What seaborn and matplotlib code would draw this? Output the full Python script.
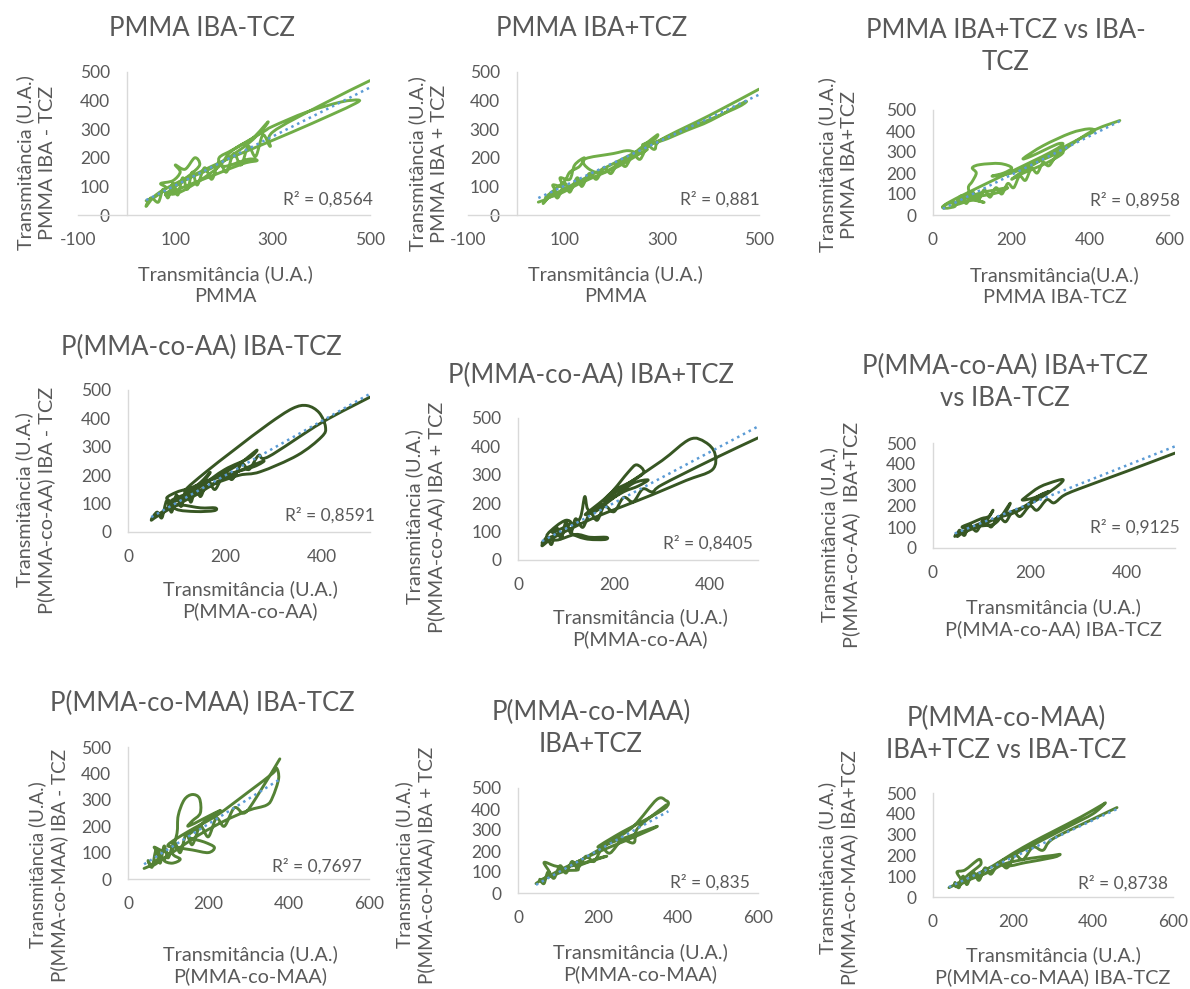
import numpy as np
import pandas as pd
import matplotlib
matplotlib.use("Agg")
import matplotlib.pyplot as plt
from matplotlib.path import Path
from matplotlib.patches import PathPatch
import seaborn as sns

sns.set_theme(style="white")
plt.rcParams["font.family"] = ["Lato", "DejaVu Sans"]
plt.rcParams["axes.unicode_minus"] = False

W, H = 1190, 989
TEXT = "#595959"
AXIS = "#D9D9D9"
TREND = "#5B9BD5"
LIGHT = "#70AD47"
DARK = "#375623"
MID = "#548235"

# ---- transmittance traces (x: reference film, y: compared film) ----
pmma_iba_x = [40, 60, 80, 70, 95, 110, 100, 120, 140, 150, 130, 105, 90, 110, 150, 190, 210, 230, 260, 290,
              280, 250, 200, 170, 130, 100, 80, 120, 180, 240, 268, 250, 200, 190, 220, 280, 300, 370, 440, 476,
              470, 420, 340, 270, 200, 150, 100, 60, 40, 50, 65, 75, 85, 95, 105, 115, 125, 135, 145,
              160, 175, 190, 205, 220, 235, 250, 265, 280, 295, 300, 400, 500]
pmma_iba_y = [50, 65, 95, 110, 120, 150, 175, 160, 200, 175, 140, 110, 75, 80, 120, 170, 215, 240, 270, 325,
              300, 250, 190, 160, 130, 100, 70, 100, 140, 180, 190, 195, 170, 200, 230, 290, 310, 360, 395, 402,
              390, 350, 290, 240, 190, 150, 110, 70, 30, 60, 45, 90, 60, 110, 70, 130, 90, 150, 105,
              165, 125, 185, 150, 215, 175, 240, 205, 280, 240, 290, 385, 470]

pmma_ibap_x = [45, 60, 80, 75, 95, 90, 110, 120, 140, 130, 110, 100, 80, 60, 90, 130, 170, 210, 250, 270,
               255, 230, 200, 140, 150, 180, 230, 260, 290, 285, 260, 300, 350, 400, 470, 460, 400, 300, 200, 120,
               70, 55, 60, 75, 85, 100, 110, 125, 135, 150, 165, 180, 195, 210, 225, 240, 255, 270, 285,
               300, 400, 500]
pmma_ibap_y = [45, 55, 80, 105, 100, 130, 125, 175, 200, 170, 150, 120, 90, 60, 75, 110, 140, 170, 210, 230,
               215, 225, 215, 195, 160, 150, 200, 240, 280, 265, 245, 260, 295, 330, 395, 380, 335, 265, 180, 110,
               65, 40, 50, 80, 60, 110, 80, 130, 100, 145, 125, 165, 145, 185, 170, 210, 195, 240, 230,
               265, 350, 440]

pmma_vs_x = [25, 40, 60, 50, 80, 100, 90, 120, 150, 170, 190, 160, 120, 80, 60, 100, 130, 100, 90, 100,
             110, 100, 120, 170, 200, 180, 150, 200, 250, 300, 330, 320, 280, 230, 200, 230, 300, 380, 410, 395,
             350, 280, 230, 250, 320, 300, 40, 55, 70, 85, 100, 115, 130, 145, 160, 175, 190, 205, 220,
             235, 250, 265, 280, 295, 320, 400, 475]
pmma_vs_y = [40, 55, 60, 45, 90, 110, 80, 90, 100, 110, 130, 120, 105, 75, 50, 70, 60, 80, 130, 160,
             200, 225, 240, 245, 225, 200, 185, 200, 240, 280, 300, 280, 240, 200, 170, 210, 290, 370, 400, 410,
             390, 330, 270, 280, 340, 300, 60, 40, 90, 55, 110, 70, 120, 85, 130, 100, 150, 130, 185,
             165, 220, 200, 250, 235, 290, 395, 450]

aa_iba_x = [50, 70, 90, 80, 100, 120, 140, 130, 100, 85, 110, 150, 180, 178, 140, 100, 90, 120, 150, 170,
            160, 190, 230, 266, 250, 200, 150, 120, 170, 230, 280, 260, 200, 150, 120, 160, 220, 290, 340, 370,
            395, 408, 400, 350, 273, 230, 180, 140, 100, 60, 48, 60, 70, 80, 90, 100, 110, 120, 130, 140,
            150, 165, 180, 200, 215, 235, 250, 270, 290, 400, 500]
aa_iba_y = [50, 70, 100, 120, 140, 150, 155, 130, 110, 90, 95, 85, 85, 75, 72, 80, 110, 135, 175, 210,
            180, 200, 240, 288, 260, 220, 160, 120, 165, 215, 250, 230, 200, 170, 150, 210, 290, 380, 435, 445,
            420, 370, 335, 270, 212, 200, 170, 130, 95, 55, 42, 70, 50, 110, 70, 130, 90, 150, 105, 160,
            125, 180, 150, 210, 185, 240, 220, 270, 265, 385, 475]

aa_ibap_x = [50, 60, 80, 70, 90, 110, 100, 80, 60, 80, 120, 150, 184, 180, 140, 110, 130, 139, 145, 160,
             200, 240, 271, 250, 220, 180, 140, 190, 230, 247, 262, 240, 200, 180, 230, 300, 358, 390, 410, 405,
             350, 280, 220, 160, 110, 70, 50, 60, 70, 80, 90, 100, 110, 120, 135, 150, 165, 180, 200,
             220, 240, 260, 280, 300, 400, 500]
aa_ibap_y = [60, 75, 90, 100, 110, 130, 140, 120, 85, 70, 90, 80, 80, 72, 75, 100, 150, 223, 180, 170,
             220, 270, 282, 260, 240, 200, 160, 230, 310, 335, 310, 280, 245, 210, 270, 350, 425, 415, 376, 318,
             280, 230, 190, 150, 110, 75, 50, 80, 55, 115, 75, 135, 95, 145, 115, 165, 140, 190, 170,
             220, 205, 250, 240, 265, 350, 430]

aa_vs_x = [45, 50, 70, 90, 110, 124, 115, 100, 80, 60, 75, 100, 130, 159, 150, 140, 170, 200, 230, 260,
           269, 255, 220, 190, 186, 210, 240, 220, 190, 160, 120, 80, 60, 50, 55, 65, 75, 90, 105, 120,
           135, 150, 165, 180, 200, 215, 235, 250, 270, 300, 400, 500]
aa_vs_y = [55, 70, 85, 110, 130, 180, 150, 140, 120, 100, 95, 105, 120, 212, 170, 150, 170, 210, 250, 300,
           325, 320, 290, 240, 228, 240, 270, 250, 200, 170, 130, 90, 70, 55, 85, 60, 110, 80, 135, 100,
           150, 125, 175, 150, 200, 180, 230, 215, 250, 280, 365, 452]

maa_iba_x = [40, 60, 80, 65, 80, 100, 90, 110, 130, 110, 122, 125, 140, 160, 178, 180, 160, 150, 190, 230,
             200, 170, 150, 190, 215, 200, 160, 120, 100, 150, 220, 300, 360, 370, 375, 360, 345, 300, 240, 180,
             130, 90, 60, 50, 60, 70, 80, 90, 100, 115, 130, 145, 160, 180, 200, 220, 240, 265, 290,
             320, 378]
maa_iba_y = [40, 55, 90, 120, 110, 95, 70, 60, 75, 100, 173, 240, 300, 320, 305, 250, 220, 200, 230, 260,
             230, 190, 160, 140, 120, 100, 110, 120, 130, 180, 240, 330, 400, 420, 380, 310, 280, 260, 220, 170,
             120, 80, 50, 70, 45, 110, 60, 125, 80, 140, 100, 170, 130, 200, 160, 230, 200, 270, 250,
             310, 455]

maa_ibap_x = [45, 60, 80, 65, 90, 110, 100, 80, 120, 150, 147, 180, 222, 200, 160, 130, 170, 230, 290, 347,
              370, 376, 365, 320, 260, 200, 240, 300, 347, 330, 270, 200, 150, 100, 60, 55, 65, 75, 90, 105,
              120, 135, 150, 170, 190, 210, 230, 260, 290, 300, 371]
maa_ibap_y = [45, 65, 90, 145, 130, 120, 100, 80, 105, 110, 125, 150, 175, 165, 140, 130, 170, 240, 320, 445,
              440, 425, 400, 350, 290, 220, 245, 285, 317, 300, 250, 195, 150, 105, 60, 65, 45, 100, 70, 130,
              95, 150, 120, 175, 150, 210, 190, 250, 240, 310, 420]

maa_vs_x = [40, 55, 70, 60, 80, 114, 120, 110, 90, 70, 100, 140, 180, 240, 300, 318, 300, 230, 190, 170,
            220, 280, 340, 400, 430, 420, 370, 300, 250, 200, 150, 100, 60, 55, 65, 75, 85, 100, 115, 130,
            145, 165, 185, 205, 225, 250, 275, 300, 400, 460]
maa_vs_y = [45, 60, 80, 120, 130, 180, 160, 140, 110, 70, 90, 120, 160, 185, 200, 205, 190, 165, 150, 170,
            220, 280, 340, 400, 450, 440, 385, 315, 265, 210, 150, 100, 50, 70, 45, 100, 60, 120, 80, 140,
            110, 165, 140, 200, 180, 240, 225, 280, 375, 430]

# ---- text ----
titles = ["PMMA IBA-TCZ", "PMMA IBA+TCZ", "PMMA IBA+TCZ vs IBA-\nTCZ",
          "P(MMA-co-AA) IBA-TCZ", "P(MMA-co-AA) IBA+TCZ", "P(MMA-co-AA) IBA+TCZ\nvs IBA-TCZ",
          "P(MMA-co-MAA) IBA-TCZ", "P(MMA-co-MAA)\nIBA+TCZ", "P(MMA-co-MAA)\nIBA+TCZ vs IBA-TCZ"]
xlabels = ["Transmitância (U.A.)\nPMMA", "Transmitância (U.A.)\nPMMA", "Transmitância(U.A.)\nPMMA IBA-TCZ",
           "Transmitância (U.A.)\nP(MMA-co-AA)", "Transmitância (U.A.)\nP(MMA-co-AA)",
           "Transmitância (U.A.)\nP(MMA-co-AA) IBA-TCZ",
           "Transmitância (U.A.)\nP(MMA-co-MAA)", "Transmitância (U.A.)\nP(MMA-co-MAA)",
           "Transmitância (U.A.)\nP(MMA-co-MAA) IBA-TCZ"]
ylabels = ["Transmitância (U.A.)\nPMMA IBA - TCZ", "Transmitância (U.A.)\nPMMA IBA + TCZ",
           "Transmitância (U.A.)\nPMMA IBA+TCZ",
           "Transmitância (U.A.)\nP(MMA-co-AA) IBA - TCZ", "Transmitância (U.A.)\nP(MMA-co-AA) IBA + TCZ",
           "Transmitância (U.A.)\nP(MMA-co-AA)  IBA+TCZ",
           "Transmitância (U.A.)\nP(MMA-co-MAA) IBA - TCZ", "Transmitância (U.A.)\nP(MMA-co-MAA) IBA + TCZ",
           "Transmitância (U.A.)\nP(MMA-co-MAA) IBA+TCZ"]
r2_values = ["0,8564", "0,881", "0,8958", "0,8591", "0,8405", "0,9125", "0,7697", "0,835", "0,8738"]

xs = [pmma_iba_x, pmma_ibap_x, pmma_vs_x, aa_iba_x, aa_ibap_x, aa_vs_x, maa_iba_x, maa_ibap_x, maa_vs_x]
ys = [pmma_iba_y, pmma_ibap_y, pmma_vs_y, aa_iba_y, aa_ibap_y, aa_vs_y, maa_iba_y, maa_ibap_y, maa_vs_y]
colors = [LIGHT] * 3 + [DARK] * 3 + [MID] * 3

xlims = [(-100, 500), (-100, 500), (0, 600), (0, 500), (0, 500), (0, 500), (0, 600), (0, 600), (0, 600)]
xticks = [[-100, 100, 300, 500], [-100, 100, 300, 500], [0, 200, 400, 600],
          [0, 200, 400], [0, 200, 400], [0, 200, 400],
          [0, 200, 400, 600], [0, 200, 400, 600], [0, 200, 400, 600]]

# plot-area boxes in pixels: left, right, bottom (y=0), top (y=500)
boxes = [(78, 370, 215, 72), (468, 759, 215, 72), (933, 1169, 215, 110),
         (128, 370, 532, 390), (518, 758, 560, 418), (933, 1175, 548, 443),
         (128, 369, 879, 747), (518, 758, 893, 788), (933, 1173, 897, 793)]
title_pos = [(202, 28), (592, 28), (1006, 46), (201, 347), (591, 375), (1005, 382),
             (202, 703), (591, 728), (1006, 734)]
ylabel_pos = [(36, 163), (428, 164), (838, 165), (35, 500), (425, 517), (840, 535),
              (48, 865), (415, 865), (838, 868)]
ylabel_size = [14.3, 14.3, 14.3, 14.3, 14.3, 14.3, 13.6, 13.6, 14.0]
xlabel_pos = [(225, 285), (615, 285), (1055, 286), (250, 600), (640, 628), (1053, 618),
              (250, 965), (640, 963), (1053, 966)]
r2_pos = [(373, 199), (760, 199), (1180, 200), (375, 515), (753, 543), (1180, 527),
          (362, 866), (750, 882), (1168, 883)]


def smooth_path(x, y):
    """Smoothed (Catmull-Rom style) Bezier path through every point."""
    pts = np.column_stack([x, y]).astype(float)
    n = len(pts)
    verts = [pts[0]]
    codes = [Path.MOVETO]
    for i in range(n - 1):
        p0 = pts[i - 1] if i > 0 else pts[i]
        p1, p2 = pts[i], pts[i + 1]
        p3 = pts[i + 2] if i + 2 < n else pts[i + 1]
        verts += [p1 + (p2 - p0) / 6.0, p2 - (p3 - p1) / 6.0, p2]
        codes += [Path.CURVE4] * 3
    return Path(verts, codes)


fig = plt.figure(figsize=(W / 100, H / 100), dpi=100)
fig.patch.set_facecolor("white")


def ftext(px, py, s, **kw):
    fig.text(px / W, 1 - py / H, s, color=TEXT, **kw)


for i in range(9):
    L, R, B, T = boxes[i]
    ax = fig.add_axes([L / W, 1 - B / H, (R - L) / W, (B - T) / H])
    ax.set_facecolor("none")
    df = pd.DataFrame({"x": xs[i], "y": ys[i]})

    patch = PathPatch(smooth_path(df["x"], df["y"]), fill=False, edgecolor=colors[i],
                      lw=2.1, joinstyle="round", capstyle="round", zorder=2)
    ax.add_patch(patch)

    sns.regplot(data=df, x="x", y="y", ax=ax, scatter=False, ci=None, truncate=True,
                line_kws=dict(color=TREND, lw=1.8, ls=(0, (1, 1.6)), zorder=3))

    ax.set_xlim(*xlims[i])
    ax.set_ylim(0, 500)
    ax.set_xticks(xticks[i])
    ax.set_yticks([0, 100, 200, 300, 400, 500])
    ax.set_xlabel("")
    ax.set_ylabel("")
    for s in ["top", "right"]:
        ax.spines[s].set_visible(False)
    for s in ["left", "bottom"]:
        ax.spines[s].set_color(AXIS)
        ax.spines[s].set_linewidth(1.0)
    ax.spines["left"].set_position(("data", 0))
    ax.tick_params(axis="x", length=4, width=1, color=AXIS, direction="out", pad=8,
                   labelsize=12.5, labelcolor=TEXT)
    ax.tick_params(axis="y", length=0, pad=12, labelsize=12.5, labelcolor=TEXT)
    ax.grid(False)

    ftext(*title_pos[i], titles[i], ha="center", va="center", fontsize=18.5,
          linespacing=1.35, multialignment="center")
    ftext(*xlabel_pos[i], xlabels[i], ha="center", va="center", fontsize=14.3,
          linespacing=1.3, multialignment="center")
    ftext(*ylabel_pos[i], ylabels[i], ha="center", va="center", fontsize=ylabel_size[i],
          rotation=90, linespacing=1.3, multialignment="center")
    ftext(*r2_pos[i], "R² = " + r2_values[i], ha="right", va="center", fontsize=12.5)

fig.savefig("out.png", dpi=100, facecolor="white")
